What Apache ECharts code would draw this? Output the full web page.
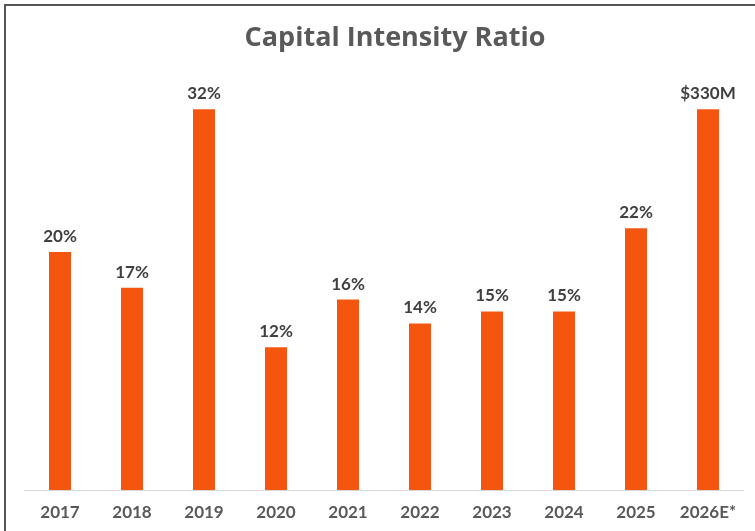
<!DOCTYPE html>
<html><head><meta charset="utf-8">
<script src="https://cdn.jsdelivr.net/npm/echarts@6/dist/echarts.min.js"></script>
<style>html,body{margin:0;padding:0;background:#fff}#c{width:755px;height:531px}</style>
</head><body><div id="c"></div>
<script>
const categories = ['2017','2018','2019','2020','2021','2022','2023','2024','2025','2026E*'];
const values = [20,17,32,12,16,14,15,15,22,32];
const labels = ['20%','17%','32%','12%','16%','14%','15%','15%','22%','$330M'];

const chart = echarts.init(document.getElementById('c'), null, {renderer:'canvas'});
chart.setOption({
  animation:false,
  backgroundColor:'#fff',
  title:{text:'Capital Intensity Ratio', left:390, textAlign:'center', top:20,
    textStyle:{fontFamily:'Open Sans', fontWeight:'bold', fontSize:27, color:'#595959'}},
  graphic:[{type:'rect', shape:{x:5,y:5,width:780,height:560}, style:{fill:'none', stroke:'#555', lineWidth:2}, silent:true}],
  grid:{left:24, right:11, top:14, bottom:41, containLabel:false},
  xAxis:{type:'category', data:categories,
    axisLine:{lineStyle:{color:'#d9d9d9', width:1}}, axisTick:{show:false},
    axisLabel:{interval:0, color:'#595959', fontFamily:'Lato', fontWeight:'bold', fontSize:17, margin:14}},
  yAxis:{type:'value', min:0, max:40, show:false, splitLine:{show:false}},
  series:[{type:'bar', data:values, barWidth:22,
    itemStyle:{color:'#F4560F'},
    label:{show:true, position:'top', distance:7, formatter:p=>labels[p.dataIndex],
      color:'#404040', fontFamily:'Lato', fontWeight:'bold', fontSize:17}}]
});
</script></body></html>
